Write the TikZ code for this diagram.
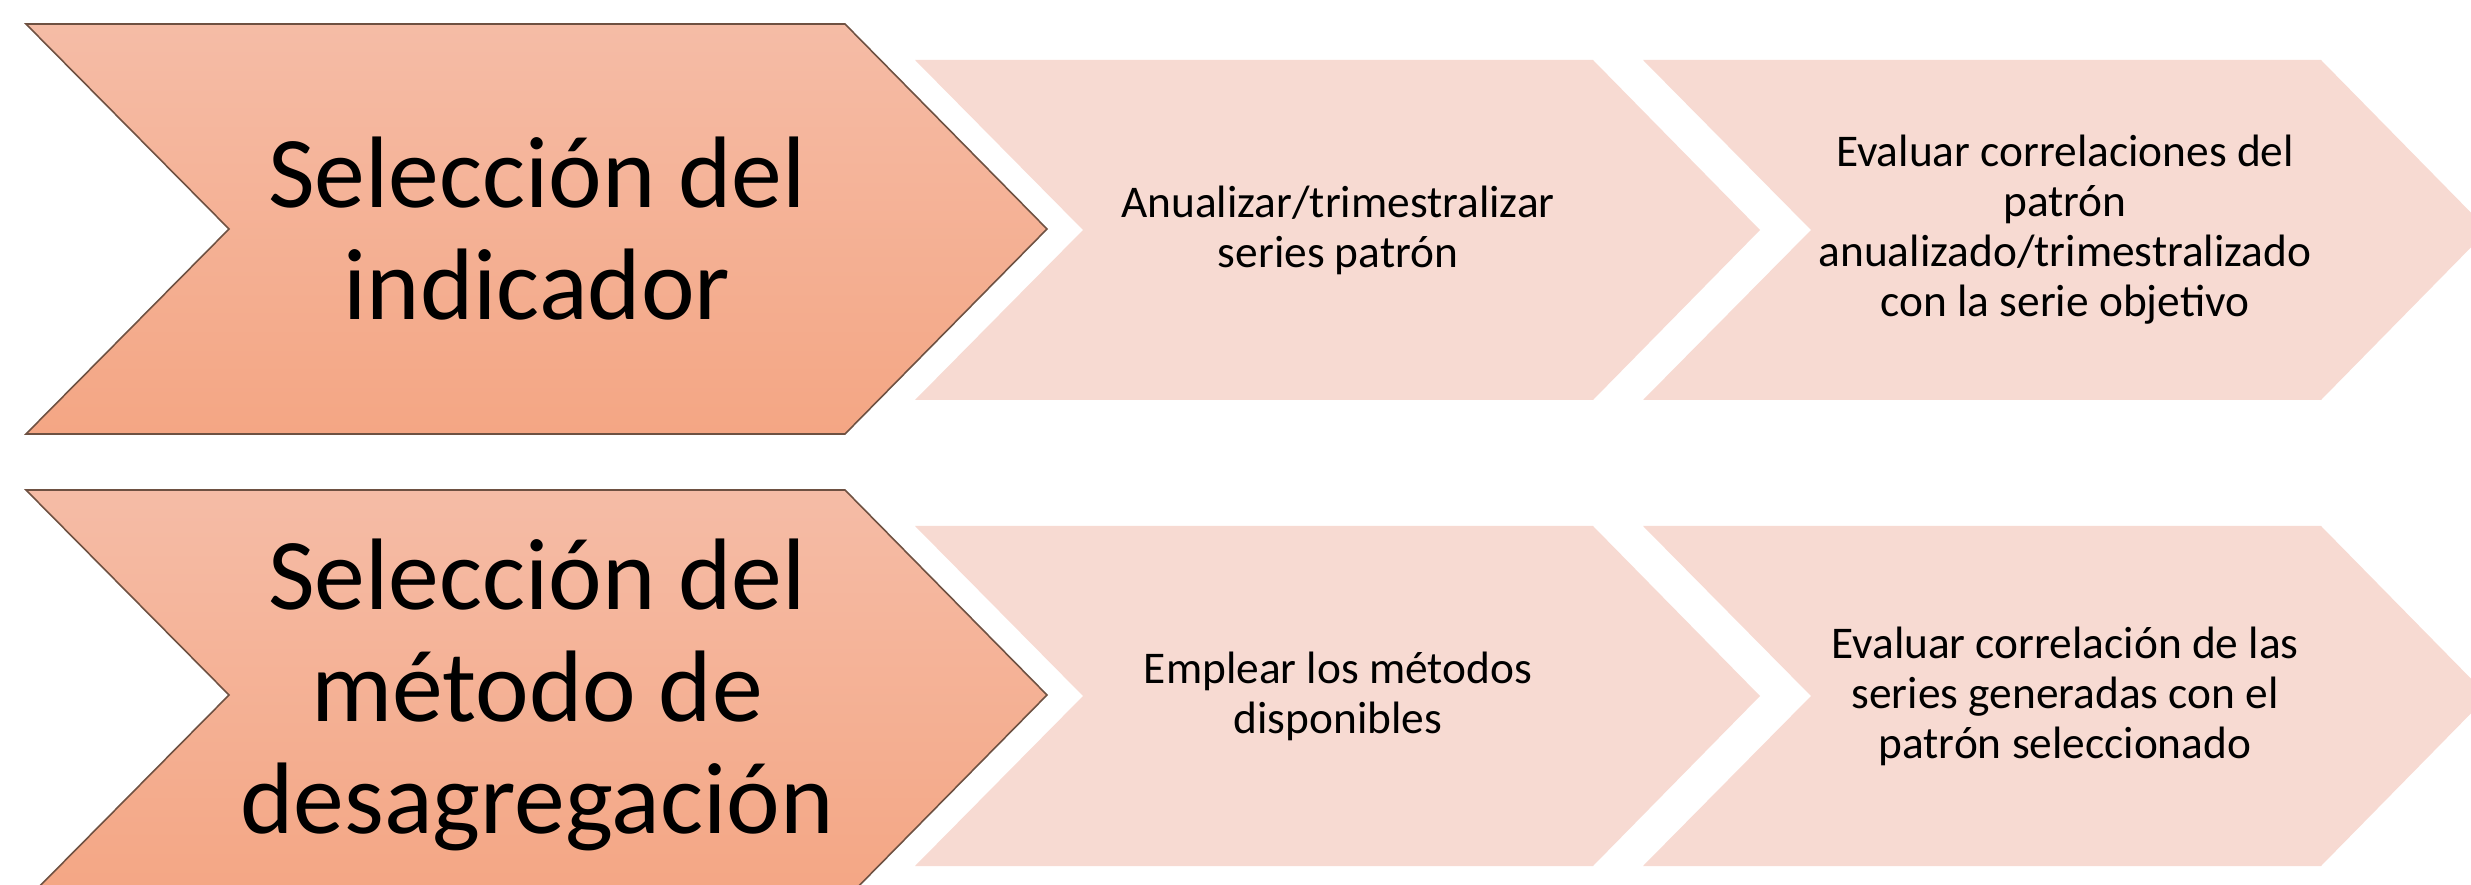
\documentclass[tikz,border=0pt]{standalone}
\usepackage{fontspec}
\setmainfont{Carlito}
\usepackage{tikz}
\usetikzlibrary{positioning, calc}
\definecolor{stagetop}{RGB}{245, 188, 166}
\definecolor{stagebottom}{RGB}{244, 166, 132}
\definecolor{stageborder}{RGB}{110, 81, 66}
\definecolor{taskcolor}{RGB}{247, 218, 210}

\begin{document}
\begin{tikzpicture}[
    x=0.01cm, y=-0.01cm,
    stage/.style={top color=stagetop, bottom color=stagebottom, draw=stageborder, line width=0.45pt},
    task/.style={fill=taskcolor, draw=none},
    stagetext/.style={font=\fontsize{28.9}{31.8}\selectfont, align=center, inner sep=0pt},
    tasktext/.style={font=\fontsize{12.9}{14.2}\selectfont, align=center, inner sep=0pt}
]
    \useasboundingbox (0,0) rectangle (2471,885);

    % Chevrons - big stages
    \foreach \dy in {0,466} {
        \path[stage] (26,24+\dy) -- (845,24+\dy) -- (1047,229+\dy) -- (845,434+\dy)
            -- (26,434+\dy) -- (229,229+\dy) -- cycle;
    }
    % Chevrons - small tasks
    \foreach \dy in {0,466} {
        \foreach \dx in {0,728} {
            \path[task] (915+\dx,60+\dy) -- (1593+\dx,60+\dy) -- (1760+\dx,230+\dy)
                -- (1593+\dx,400+\dy) -- (915+\dx,400+\dy) -- (1083+\dx,230+\dy) -- cycle;
        }
    }

    % Nodes - top row
    \node[stagetext] (indicador) at (537,229) {Selección del\\indicador};
    \node[tasktext] (anualizar) at (1338,230) {Anualizar/trimestralizar\\series patrón};
    \node[tasktext] (correlaciones) at (2065,230) {Evaluar correlaciones del\\patrón\\anualizado/trimestralizado\\con la serie objetivo};

    % Nodes - bottom row
    \node[stagetext] (metodo) at (537,695) {Selección del\\método de\\desagregación};
    \node[tasktext] (emplear) at (1338,696) {Emplear los métodos\\disponibles};
    \node[tasktext] (correlacion) at (2065,696) {Evaluar correlación de las\\series generadas con el\\patrón seleccionado};
\end{tikzpicture}
\end{document}
